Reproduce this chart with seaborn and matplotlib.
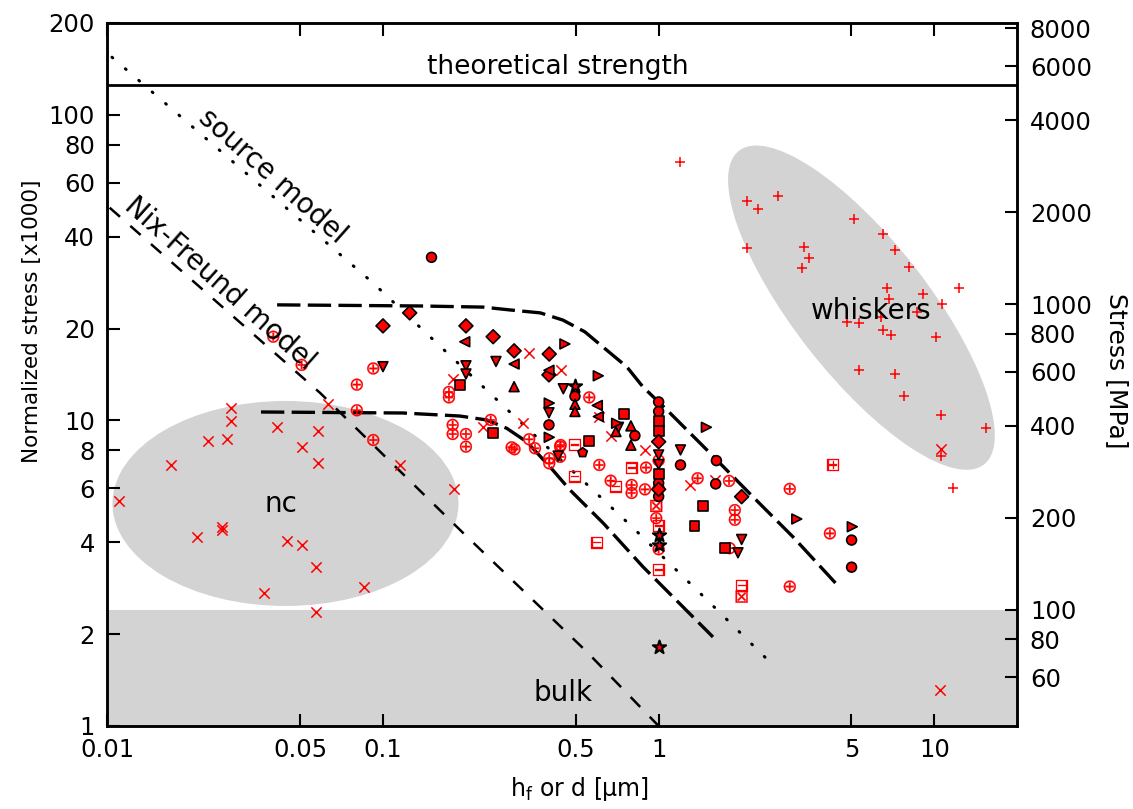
import numpy as np
import pandas as pd
import matplotlib
matplotlib.use("Agg")
import matplotlib.pyplot as plt
import seaborn as sns
from matplotlib.patches import Ellipse
from matplotlib.transforms import ScaledTranslation

sns.set_theme(style="ticks")
plt.rcParams["font.family"] = ["DejaVu Sans"]
plt.rcParams["mathtext.fontset"] = "dejavusans"
for key in ["text.color", "axes.labelcolor", "xtick.color", "ytick.color", "axes.edgecolor"]:
    plt.rcParams[key] = "black"

# reference levels (normalized stress x1000)
theory_level = 125.0
bulk_level = 2.4
mpa_per_unit = 41.6

# model curves
source_x = [0.0104, 0.092, 0.286, 0.794, 1.535, 2.49]
source_y = [154.5, 28.2, 10.74, 4.52, 2.53, 1.644]
nix_x = [0.0102, 0.0592, 0.195, 0.55, 1.0]
nix_y = [49.7, 12.3, 4.29, 1.746, 1.0]
upper_x = [0.0413, 0.136, 0.231, 0.289, 0.372, 0.450, 0.540, 0.628, 0.767, 0.877,
           1.072, 1.496, 2.20, 3.07, 4.55]
upper_y = [23.9, 23.7, 23.5, 23.0, 22.5, 21.3, 19.5, 17.4, 14.97, 12.88,
           10.82, 8.01, 5.62, 4.16, 2.83]
lower_x = [0.0361, 0.118, 0.190, 0.238, 0.281, 0.332, 0.403, 0.477, 0.630, 0.877, 1.574]
lower_y = [10.66, 10.58, 10.34, 10.04, 9.43, 8.52, 7.06, 5.92, 4.61, 3.32, 1.956]

# whiskers (red +)
plus_x = [1.20, 2.10, 2.30, 2.70, 5.12, 6.53, 7.20, 8.12, 2.10, 3.36, 3.51, 3.31,
          6.75, 6.85, 9.13, 12.3, 10.7, 8.64, 4.83, 5.33, 6.39, 6.51, 6.97, 10.1,
          5.33, 7.20, 7.77, 10.6, 15.4, 10.6, 11.7]
plus_y = [70.3, 52.3, 49.3, 54.4, 45.5, 40.9, 36.1, 31.9, 36.8, 37.0, 33.9, 31.6,
          27.1, 24.9, 26.0, 27.2, 24.0, 22.7, 21.0, 20.9, 21.8, 19.8, 19.1, 18.8,
          14.6, 14.2, 12.0, 10.4, 9.48, 7.63, 6.02]

# nanocrystalline and others (red x)
cross_x = [0.0110, 0.0170, 0.0211, 0.0231, 0.0260, 0.0260, 0.0271, 0.0281, 0.0281,
           0.0371, 0.0412, 0.0450, 0.0510, 0.0510, 0.0582, 0.0582, 0.0572, 0.0572,
           0.0633, 0.0853, 0.115, 0.181, 0.231, 0.321, 0.180, 0.339, 0.441, 0.609,
           0.670, 0.892, 1.30, 1.60, 10.5, 10.6]
cross_y = [5.45, 7.13, 4.16, 8.55, 4.49, 4.38, 8.68, 9.98, 10.96,
           2.73, 9.50, 4.03, 3.91, 8.17, 9.26, 7.24, 3.32, 2.37,
           11.3, 2.84, 7.15, 5.95, 9.55, 9.83, 13.7, 16.6, 14.6, 10.3,
           8.90, 8.01, 6.15, 6.39, 1.31, 8.04]

# filled symbols (red with black edge)
circ_x = [0.150, 0.497, 0.820, 1.0, 1.0, 1.0, 1.0, 1.20, 0.400, 1.62, 1.61, 5.01, 5.01]
circ_y = [34.2, 12.0, 8.92, 11.5, 10.7, 6.24, 5.64, 7.15, 9.67, 7.39, 6.20, 4.06, 3.31]
sq_x = [0.190, 0.251, 0.748, 1.0, 1.0, 1.0, 1.45, 1.35, 0.560, 1.74]
sq_y = [13.1, 9.12, 10.5, 9.96, 9.24, 6.70, 5.25, 4.52, 8.59, 3.82]
dia_x = [0.125, 0.100, 0.200, 0.251, 0.299, 0.401, 0.400, 1.0, 1.0, 2.00]
dia_y = [22.5, 20.4, 20.4, 18.8, 16.9, 16.5, 14.1, 8.52, 5.95, 5.63]
up_x = [0.299, 0.497, 0.497, 0.793, 0.793, 0.70]
up_y = [12.9, 11.3, 10.7, 9.6, 8.3, 9.2]
down_x = [0.257, 0.100, 0.200, 0.200, 0.451, 0.400, 0.432, 0.715, 1.0, 1.0, 1.20, 1.94, 2.00]
down_y = [15.6, 15.0, 15.1, 14.2, 12.7, 10.6, 7.65, 9.50, 7.71, 7.18, 8.01, 3.69, 4.08]
left_x = [0.198, 0.299, 0.400, 0.599, 0.604]
left_y = [18.1, 15.3, 14.6, 11.2, 10.3]
right_x = [0.457, 0.401, 0.401, 0.604, 0.704, 1.49, 3.17, 5.04]
right_y = [17.8, 11.4, 8.81, 14.0, 9.79, 9.50, 4.76, 4.49]
pent_x = [0.530]
pent_y = [7.85]
star_x = [0.497, 1.0, 1.0, 1.0]
star_y = [13.0, 4.22, 3.91, 1.81]

# open red symbols
oplus_x = [0.040, 0.0507, 0.0804, 0.0804, 0.0922, 0.0922, 0.1735, 0.1735, 0.179, 0.179,
           0.200, 0.200, 0.246, 0.293, 0.30, 0.339, 0.356, 0.401, 0.401, 0.441, 0.439,
           0.439, 0.560, 0.609, 0.670, 0.798, 0.798, 0.892, 0.90, 1.0, 1.0, 0.98, 1.0,
           1.385, 1.80, 2.99, 1.89, 1.89, 4.18, 1.81, 2.99]
oplus_y = [18.8, 15.2, 13.1, 10.8, 14.8, 8.63, 12.4, 11.9, 9.67, 9.03,
           9.03, 8.21, 10.04, 8.17, 8.05, 8.68, 8.11, 7.52, 7.24, 8.31, 8.21,
           7.6, 11.9, 7.15, 6.35, 6.15, 5.79, 5.95, 7.01, 7.4, 6.0, 4.79, 3.79,
           6.47, 6.34, 5.97, 5.09, 4.73, 4.27, 3.82, 2.86]
boxminus_x = [0.497, 0.497, 0.700, 0.798, 1.0, 0.599, 1.0, 2.00]
boxminus_y = [8.31, 6.55, 6.07, 6.98, 4.52, 3.98, 3.24, 2.88]
boxtimes_x = [0.98, 2.00]
boxtimes_y = [5.25, 2.65]
boxplus_x = [4.30]
boxplus_y = [7.15]

# region outlines: center (data), full size in inches, angle in degrees
nc_center = (0.0443, 5.35)
nc_size = (3.46, 2.05)
nc_angle = 0
whisk_center = (5.44, 23.4)
whisk_size = (3.98, 1.34)
whisk_angle = -52

fig = plt.figure(figsize=(11.33, 8.09), dpi=100)
ax = fig.add_axes([0.0947, 0.1026, 0.8032, 0.869])
ax.set_xscale("log")
ax.set_yscale("log")
ax.set_xlim(0.01, 20)
ax.set_ylim(1, 200)

ax.axhspan(1, bulk_level, color="lightgray", lw=0, zorder=0)
for c, sz, ang in [(nc_center, nc_size, nc_angle), (whisk_center, whisk_size, whisk_angle)]:
    e = Ellipse((0, 0), sz[0], sz[1], angle=ang, color="lightgray", lw=0, zorder=0,
                transform=fig.dpi_scale_trans + ScaledTranslation(c[0], c[1], ax.transData))
    ax.add_patch(e)

ax.axhline(theory_level, color="black", lw=2.0, zorder=2)
sns.lineplot(x=source_x, y=source_y, sort=False, estimator=None, color="black", lw=2.2,
             linestyle=(0, (0.3, 5.5)), dash_capstyle="round", ax=ax, zorder=2)
sns.lineplot(x=nix_x, y=nix_y, sort=False, estimator=None, color="black", lw=1.8,
             linestyle=(0, (5.5, 5.5)), ax=ax, zorder=2)
for lx, ly in [(upper_x, upper_y), (lower_x, lower_y)]:
    sns.lineplot(x=lx, y=ly, sort=False, estimator=None, color="black", lw=2.4,
                 linestyle=(0, (7, 2.2)), ax=ax, zorder=2)

filled = pd.concat([
    pd.DataFrame({"x": circ_x, "y": circ_y, "shape": "o"}),
    pd.DataFrame({"x": sq_x, "y": sq_y, "shape": "s"}),
    pd.DataFrame({"x": dia_x, "y": dia_y, "shape": "D"}),
    pd.DataFrame({"x": up_x, "y": up_y, "shape": "^"}),
    pd.DataFrame({"x": down_x, "y": down_y, "shape": "v"}),
    pd.DataFrame({"x": left_x, "y": left_y, "shape": "<"}),
    pd.DataFrame({"x": right_x, "y": right_y, "shape": ">"}),
    pd.DataFrame({"x": pent_x, "y": pent_y, "shape": "p"}),
], ignore_index=True)
shape_marks = {m: m for m in filled["shape"].unique()}
sns.scatterplot(data=filled, x="x", y="y", style="shape", markers=shape_marks,
                color="red", edgecolor="black", linewidth=1.2, s=50, legend=False,
                ax=ax, zorder=4)
sns.scatterplot(x=star_x, y=star_y, marker="*", color="red", edgecolor="black",
                linewidth=1.5, s=100, legend=False, ax=ax, zorder=4)

opened = pd.concat([
    pd.DataFrame({"x": oplus_x, "y": oplus_y, "shape": "oplus"}),
    pd.DataFrame({"x": boxminus_x, "y": boxminus_y, "shape": "boxminus"}),
    pd.DataFrame({"x": boxtimes_x, "y": boxtimes_y, "shape": "boxtimes"}),
    pd.DataFrame({"x": boxplus_x, "y": boxplus_y, "shape": "boxplus"}),
], ignore_index=True)
open_marks = {k: r"$\%s$" % k for k in opened["shape"].unique()}
sns.scatterplot(data=opened, x="x", y="y", style="shape", markers=open_marks,
                color="red", edgecolor="red", linewidth=0.2, s=75, legend=False,
                ax=ax, zorder=3)

sns.scatterplot(x=cross_x, y=cross_y, marker="x", color="red", s=55, linewidth=1.1,
                legend=False, ax=ax, zorder=3)
sns.scatterplot(x=plus_x, y=plus_y, marker="+", color="red", s=60, linewidth=1.1,
                legend=False, ax=ax, zorder=3)

# labels inside the plot
ax.text(0.431, 143.6, "theoretical strength", ha="center", va="center", fontsize=19)
ax.text(0.0396, 62.9, "source model", ha="center", va="center", fontsize=20,
        rotation=-41.6, rotation_mode="anchor")
ax.text(0.0256, 28.1, "Nix-Freund model", ha="center", va="center", fontsize=20,
        rotation=-41.7, rotation_mode="anchor")
ax.text(0.0425, 5.33, "nc", ha="center", va="center", fontsize=20)
ax.text(5.91, 22.8, "whiskers", ha="center", va="center", fontsize=20)
ax.text(0.448, 1.28, "bulk", ha="center", va="center", fontsize=20)

xt = [0.01, 0.05, 0.1, 0.5, 1, 5, 10]
yt = [1, 2, 4, 6, 8, 10, 20, 40, 60, 80, 100, 200]
ax.set_xticks(xt)
ax.set_xticklabels(["0.01", "0.05", "0.1", "0.5", "1", "5", "10"])
ax.set_yticks(yt)
ax.set_yticklabels([str(v) for v in yt])
ax.minorticks_off()
ax.tick_params(which="both", direction="in", length=9, width=1.5, top=True,
               right=False, labelsize=17.5, pad=9, colors="black")
ax.set_xlabel(r"h$_\mathregular{f}$ or d [µm]", fontsize=17)
ax.set_ylabel("Normalized stress [x1000]", fontsize=15.5)
ax.xaxis.set_label_coords(0.519, -0.07)
ax.yaxis.set_label_coords(-0.072, 0.576)

ax2 = ax.twinx()
ax2.set_yscale("log")
ax2.set_ylim(1 * mpa_per_unit, 200 * mpa_per_unit)
rt = [60, 80, 100, 200, 400, 600, 800, 1000, 2000, 4000, 6000, 8000]
ax2.set_yticks(rt)
ax2.set_yticklabels([str(v) for v in rt])
ax2.minorticks_off()
ax2.tick_params(axis="y", which="both", direction="in", length=9, width=1.5,
                labelsize=17.5, pad=9, colors="black")
ax2.set_ylabel("Stress [MPa]", fontsize=18, rotation=270, va="bottom")
ax2.yaxis.set_label_coords(1.096, 0.505)

for a in (ax, ax2):
    for sp in a.spines.values():
        sp.set_linewidth(1.8)
        sp.set_color("black")

fig.savefig("out.png", dpi=100)
